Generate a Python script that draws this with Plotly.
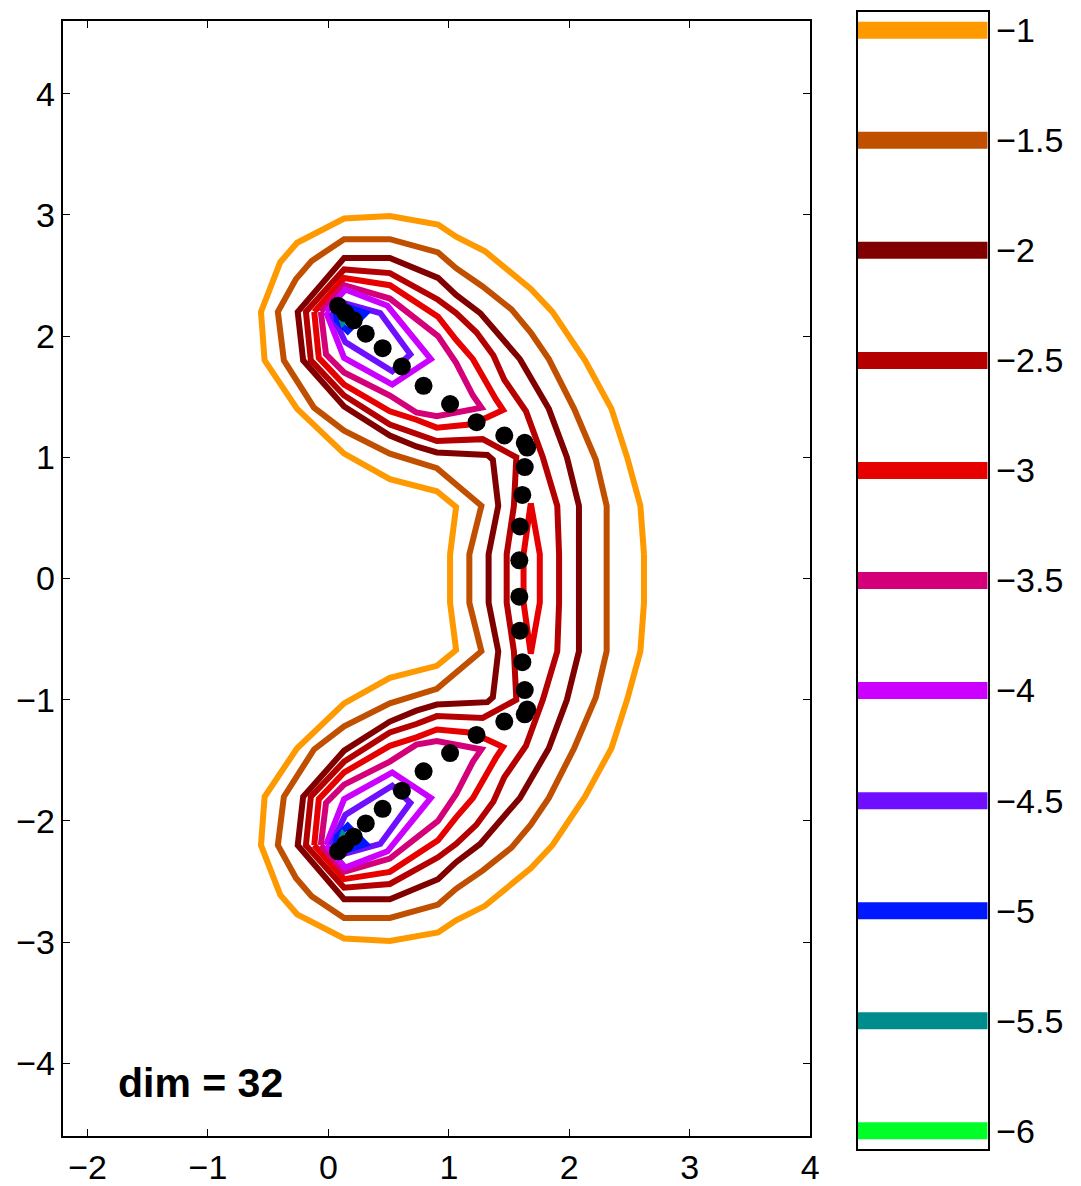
import plotly.graph_objects as go

# ---------------- data ----------------
LEVELS = [-1, -1.5, -2, -2.5, -3, -3.5, -4, -4.5, -5, -5.5, -6]
LEVEL_COLORS = ["#FF9900", "#C05000", "#800000", "#B40000", "#E60000", "#D4007A",
                "#CC00FF", "#6E0FFF", "#0018FF", "#008C8C", "#00FF28"]
LEVEL_LABELS = ["−1", "−1.5", "−2", "−2.5", "−3", "−3.5", "−4", "−4.5", "−5", "−5.5", "−6"]

X_TICKS = [-2, -1, 0, 1, 2, 3, 4]
X_TICK_TEXT = ["−2", "−1", "0", "1", "2", "3", "4"]
Y_TICKS = [-4, -3, -2, -1, 0, 1, 2, 3, 4]
Y_TICK_TEXT = ["−4", "−3", "−2", "−1", "0", "1", "2", "3", "4"]

# level -1 (single closed C-shaped loop)
C1_X = [2.62, 2.59, 2.48, 2.35, 2.13, 1.86, 1.68, 1.42, 1.30, 1.06, 0.91, 0.51, 0.13, -0.26, -0.40, -0.56,
        -0.53, -0.26, 0.13, 0.51, 0.90, 1.06, 1.01,
        1.01, 1.06, 0.90, 0.51, 0.13, -0.26, -0.53, -0.56, -0.40, -0.26, 0.13, 0.51, 0.91, 1.06, 1.30, 1.42,
        1.68, 1.86, 2.13, 2.35, 2.48, 2.59, 2.62, 2.62]
C1_Y = [0.20, 0.60, 1.00, 1.40, 1.80, 2.20, 2.39, 2.60, 2.70, 2.82, 2.92, 2.99, 2.97, 2.77, 2.61, 2.20,
        1.80, 1.40, 1.03, 0.82, 0.72, 0.59, 0.20,
        -0.20, -0.59, -0.72, -0.82, -1.03, -1.40, -1.80, -2.20, -2.61, -2.77, -2.97, -2.99, -2.92, -2.82, -2.70, -2.60,
        -2.39, -2.20, -1.80, -1.40, -1.00, -0.60, -0.20, 0.20]

# level -1.5
C15_X = [2.31, 2.31, 2.22, 2.04, 1.83, 1.68, 1.52, 1.28, 1.06, 0.91, 0.51, 0.13, -0.14, -0.27, -0.42, -0.37,
         -0.12, 0.13, 0.51, 0.90, 1.27, 1.17,
         1.17, 1.27, 0.90, 0.51, 0.13, -0.12, -0.37, -0.42, -0.27, -0.14, 0.13, 0.51, 0.91, 1.06, 1.28, 1.52,
         1.68, 1.83, 2.04, 2.22, 2.31, 2.31, 2.31]
C15_Y = [0.20, 0.60, 0.98, 1.40, 1.81, 2.03, 2.22, 2.41, 2.56, 2.69, 2.80, 2.80, 2.62, 2.47, 2.20, 1.80,
         1.41, 1.22, 1.03, 0.91, 0.60, 0.20,
         -0.20, -0.60, -0.91, -1.03, -1.22, -1.41, -1.80, -2.20, -2.47, -2.62, -2.80, -2.80, -2.69, -2.56, -2.41, -2.22,
         -2.03, -1.81, -1.40, -0.98, -0.60, -0.20, 0.20]

# level -2
C2_X = [2.08, 2.08, 1.98, 1.83, 1.59, 1.26, 1.06, 0.91, 0.51, 0.13, -0.255, -0.21, 0.13, 0.51, 0.73, 0.90,
        1.32, 1.365, 1.41, 1.33,
        1.33, 1.41, 1.365, 1.32, 0.90, 0.73, 0.51, 0.13, -0.21, -0.255, 0.13, 0.51, 0.91, 1.06, 1.26, 1.59,
        1.83, 1.98, 2.08, 2.08, 2.08]
C2_Y = [0.20, 0.60, 1.00, 1.40, 1.81, 2.19, 2.34, 2.48, 2.645, 2.645, 2.20, 1.80, 1.42, 1.18, 1.09, 1.04,
        1.02, 0.98, 0.60, 0.20,
        -0.20, -0.60, -0.98, -1.02, -1.04, -1.09, -1.18, -1.42, -1.80, -2.20, -2.645, -2.645, -2.48, -2.34, -2.19, -1.81,
        -1.40, -1.00, -0.60, -0.20, 0.20]

# level -2.5
C25_X = [1.915, 1.90, 1.78, 1.64, 1.46, 1.37, 1.23, 1.06, 0.91, 0.51, 0.13, -0.187, -0.146, 0.13, 0.51, 0.73,
         0.90, 1.28, 1.56, 1.54, 1.48,
         1.48, 1.54, 1.56, 1.28, 0.90, 0.73, 0.51, 0.13, -0.146, -0.187, 0.13, 0.51, 0.91, 1.06, 1.23, 1.37,
         1.46, 1.64, 1.78, 1.90, 1.915, 1.915]
C25_Y = [0.20, 0.60, 1.00, 1.38, 1.64, 1.84, 2.03, 2.19, 2.30, 2.52, 2.55, 2.20, 1.80, 1.51, 1.27, 1.20,
         1.135, 1.15, 1.00, 0.60, 0.20,
         -0.20, -0.60, -1.00, -1.15, -1.135, -1.20, -1.27, -1.51, -1.80, -2.20, -2.55, -2.52, -2.30, -2.19, -2.03, -1.84,
         -1.64, -1.38, -1.00, -0.60, -0.20, 0.20]

# level -3: upper lobe, middle sliver, lower lobe
C3_LOBE_X = [-0.118, 0.13, 0.51, 0.91, 1.06, 1.20, 1.39, 1.45, 1.32, 1.17, 0.90, 0.73, 0.51, 0.13, -0.08, -0.118]
C3_UP_Y = [2.20, 2.48, 2.42, 2.16, 1.97, 1.81, 1.48, 1.39, 1.33, 1.27, 1.245, 1.31, 1.38, 1.60, 1.82, 2.20]
C3_LOW_Y = [-2.20, -2.48, -2.42, -2.16, -1.97, -1.81, -1.48, -1.39, -1.33, -1.27, -1.245, -1.31, -1.38, -1.60, -1.82, -2.20]
C3_MID_X = [1.68, 1.755, 1.755, 1.68, 1.62, 1.62, 1.68]
C3_MID_Y = [0.62, 0.20, -0.20, -0.62, -0.20, 0.20, 0.62]

# level -3.5
C35_LOBE_X = [-0.063, 0.13, 0.51, 0.91, 1.06, 1.20, 1.27, 0.90, 0.73, 0.51, 0.13, -0.02, -0.063]
C35_UP_Y = [2.20, 2.42, 2.31, 2.00, 1.78, 1.51, 1.41, 1.34, 1.37, 1.51, 1.70, 1.85, 2.20]
C35_LOW_Y = [-2.20, -2.42, -2.31, -2.00, -1.78, -1.51, -1.41, -1.34, -1.37, -1.51, -1.70, -1.85, -2.20]

# level -4
C4_LOBE_X = [-0.02, 0.14, 0.49, 0.85, 0.53, 0.13, -0.02]
C4_UP_Y = [2.20, 2.385, 2.25, 1.81, 1.60, 1.82, 2.20]
C4_LOW_Y = [-2.20, -2.385, -2.25, -1.81, -1.60, -1.82, -2.20]

# level -4.5
C45_LOBE_X = [0.02, 0.10, 0.43, 0.68, 0.53, 0.14, 0.02]
C45_UP_Y = [2.20, 2.28, 2.19, 1.85, 1.71, 1.95, 2.20]
C45_LOW_Y = [-2.20, -2.28, -2.19, -1.85, -1.71, -1.95, -2.20]

# level -5
C5_LOBE_X = [0.06, 0.10, 0.31, 0.16, 0.07, 0.06]
C5_UP_Y = [2.20, 2.26, 2.19, 2.04, 2.13, 2.20]
C5_LOW_Y = [-2.20, -2.26, -2.19, -2.04, -2.13, -2.20]

# level -5.5
C55_LOBE_X = [0.10, 0.17, 0.12, 0.10]
C55_UP_Y = [2.17, 2.16, 2.11, 2.17]
C55_LOW_Y = [-2.17, -2.16, -2.11, -2.17]

# black path points
DOT_X = [0.08, 0.14, 0.21, 0.31, 0.45, 0.61, 0.79, 1.01, 1.23, 1.46, 1.63, 1.65, 1.63, 1.61, 1.59, 1.585,
         1.585, 1.59, 1.61, 1.63, 1.65, 1.63, 1.46, 1.23, 1.01, 0.79, 0.61, 0.45, 0.31, 0.21, 0.14, 0.08]
DOT_Y = [2.25, 2.19, 2.13, 2.02, 1.90, 1.75, 1.59, 1.44, 1.29, 1.18, 1.12, 1.08, 0.92, 0.69, 0.43, 0.15,
         -0.15, -0.43, -0.69, -0.92, -1.08, -1.12, -1.18, -1.29, -1.44, -1.59, -1.75, -1.90, -2.02, -2.13, -2.19, -2.25]

LABEL_TEXT = "dim = 32"

# ---------------- figure ----------------
W, H = 1081, 1186
FONT = "Liberation Sans, Arial, Helvetica, sans-serif"
LW = 6

contours = [
    (C1_X, C1_Y),
    (C15_X, C15_Y),
    (C2_X, C2_Y),
    (C25_X, C25_Y),
    (C3_LOBE_X + [None] + C3_MID_X + [None] + C3_LOBE_X, C3_UP_Y + [None] + C3_MID_Y + [None] + C3_LOW_Y),
    (C35_LOBE_X + [None] + C35_LOBE_X, C35_UP_Y + [None] + C35_LOW_Y),
    (C4_LOBE_X + [None] + C4_LOBE_X, C4_UP_Y + [None] + C4_LOW_Y),
    (C45_LOBE_X + [None] + C45_LOBE_X, C45_UP_Y + [None] + C45_LOW_Y),
    (C5_LOBE_X + [None] + C5_LOBE_X, C5_UP_Y + [None] + C5_LOW_Y),
    (C55_LOBE_X + [None] + C55_LOBE_X, C55_UP_Y + [None] + C55_LOW_Y),
]

fig = go.Figure()
for (cx, cy), col in zip(contours, LEVEL_COLORS):
    fig.add_trace(go.Scatter(x=cx, y=cy, mode="lines", line=dict(color=col, width=LW),
                             connectgaps=False, showlegend=False, hoverinfo="skip",
                             xaxis="x", yaxis="y"))

fig.add_trace(go.Scatter(x=DOT_X, y=DOT_Y, mode="markers",
                         marker=dict(color="black", size=18, line=dict(width=0)),
                         showlegend=False, xaxis="x", yaxis="y"))

# colorbar bands
for lvl, col in zip(LEVELS, LEVEL_COLORS):
    fig.add_trace(go.Scatter(x=[0, 1], y=[lvl, lvl], mode="lines",
                             line=dict(color=col, width=17), showlegend=False,
                             hoverinfo="skip", xaxis="x2", yaxis="y2"))

fig.add_annotation(x=-1.76, y=-4.16, xref="x", yref="y", text="<b>%s</b>" % LABEL_TEXT,
                   showarrow=False, xanchor="left", yanchor="middle",
                   font=dict(family=FONT, size=41, color="black"))

axis_common = dict(showgrid=False, zeroline=False, showline=True, linecolor="black",
                   linewidth=1.5, tickcolor="black", tickwidth=1.2,
                   tickfont=dict(family=FONT, size=34, color="black"))

fig.update_layout(
    width=W, height=H, autosize=False,
    margin=dict(l=0, r=0, t=0, b=0),
    paper_bgcolor="white", plot_bgcolor="white",
    xaxis=dict(domain=[64 / W, 817 / W], range=[-2.2, 4.0], tickvals=X_TICKS, ticktext=X_TICK_TEXT,
               ticks="inside", ticklen=7, mirror="ticks", anchor="y", **axis_common),
    yaxis=dict(domain=[1 - 1138 / H, 1 - 20 / H], range=[-4.6, 4.6], tickvals=Y_TICKS, ticktext=Y_TICK_TEXT,
               ticks="inside", ticklen=7, mirror="ticks", anchor="x", **axis_common),
    xaxis2=dict(domain=[865 / W, 996 / W], range=[0, 1], showticklabels=False, ticks="",
                mirror=True, anchor="y2", **axis_common),
    yaxis2=dict(domain=[1 - 1151 / H, 1 - 11 / H], range=[-6.083, -0.917], tickvals=LEVELS,
                ticktext=LEVEL_LABELS, ticks="", side="right", mirror=True, anchor="x2", **axis_common),
)

fig.write_html("out.html", config={"displayModeBar": False, "responsive": False},
               post_script="document.body.style.margin='0';document.body.style.overflow='hidden';"
                           "document.documentElement.style.overflow='hidden';")
